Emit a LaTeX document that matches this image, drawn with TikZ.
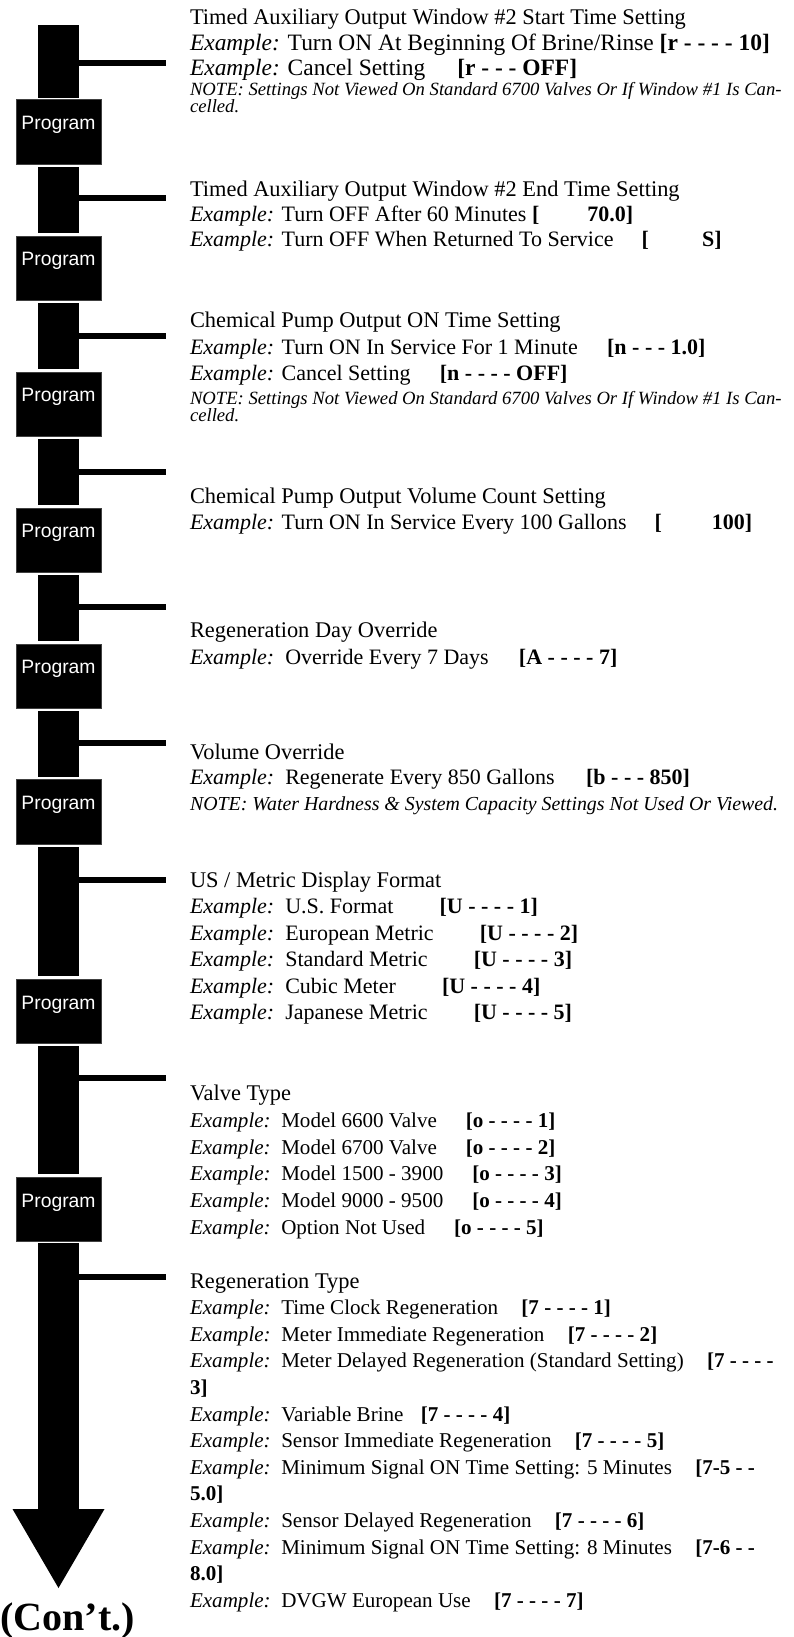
\documentclass[tikz,border=0pt]{standalone}
\usepackage{fontspec}
\setmainfont{Liberation Serif}
\newfontfamily\progfont{Liberation Sans}
\usetikzlibrary{fit}

\newcommand\exm{\textit{Example:}}
\newcommand\brk[2]{\hspace{#1}\textbf{#2}}

\tikzset{
  shaft/.style={fill=black, draw=none, inner sep=0pt, outer sep=0pt},
  prog/.style={fill=black, draw=black!75, line width=0.4pt, inner sep=0pt, outer sep=0pt,
    text=white, font=\progfont\fontsize{14.5}{16}\selectfont},
  stub/.style={line width=4.5pt, line cap=butt},
  ln/.style={anchor=base west, inner sep=0pt, outer sep=0pt, font=\fontsize{16.5}{19}\selectfont},
  head/.style={ln, font=\fontsize{16.8}{19}\selectfont},
  lnbig/.style={ln, font=\fontsize{17.6}{20}\selectfont},
  lnsm/.style={ln, font=\fontsize{15.8}{19}\selectfont},
  note/.style={ln, font=\fontsize{14}{16}\selectfont\itshape},
  notebig/.style={ln, font=\fontsize{14.9}{17}\selectfont\itshape},
  bk/.style={ln, font=\fontsize{16.5}{19}\selectfont\bfseries},
  bksm/.style={ln, font=\fontsize{15.8}{19}\selectfont\bfseries},
}

\begin{document}
\begin{tikzpicture}[x=0.75pt, y=-0.75pt]
\useasboundingbox (0,0) rectangle (793,1637);

% ---- column: shaft pieces and Program boxes
\node[shaft, fit={(38,25) (79,98)}] (s1) {};
\node[prog, fit={(16,99) (101,164)}] (p1) {Program};
\node[shaft, fit={(38,167) (79,233)}] (s2) {};
\node[prog, fit={(16,236) (101,300)}] (p2) {Program};
\node[shaft, fit={(38,303) (79,369)}] (s3) {};
\node[prog, fit={(16,372) (101,436)}] (p3) {Program};
\node[shaft, fit={(38,439) (79,505)}] (s4) {};
\node[prog, fit={(16,508) (101,572)}] (p4) {Program};
\node[shaft, fit={(38,575) (79,641)}] (s5) {};
\node[prog, fit={(16,644) (101,708)}] (p5) {Program};
\node[shaft, fit={(38,711) (79,777)}] (s6) {};
\node[prog, fit={(16,779) (101,844)}] (p6) {Program};
\node[shaft, fit={(38,847) (79,976)}] (s7) {};
\node[prog, fit={(16,979) (101,1043)}] (p7) {Program};
\node[shaft, fit={(38,1046) (79,1174)}] (s8) {};
\node[prog, fit={(16,1177) (101,1241)}] (p8) {Program};
\node[shaft, fit={(38,1243) (79,1509)}] (s9) {};
\coordinate (tip) at (58.5,1588);
\fill (s9.south) ++(-46,0) -- ++(92,0) -- (tip) -- cycle;

% ---- stubs leading to the settings
\coordinate (e1) at (166,63);
\coordinate (e2) at (166,198);
\coordinate (e3) at (166,336);
\coordinate (e4) at (166,472);
\coordinate (e5) at (166,607);
\coordinate (e6) at (166,743);
\coordinate (e7) at (166,880);
\coordinate (e8) at (166,1078);
\coordinate (e9) at (166,1277);
\draw[stub] (e1 -| s1.east) -- (e1);
\draw[stub] (e2 -| s2.east) -- (e2);
\draw[stub] (e3 -| s3.east) -- (e3);
\draw[stub] (e4 -| s4.east) -- (e4);
\draw[stub] (e5 -| s5.east) -- (e5);
\draw[stub] (e6 -| s6.east) -- (e6);
\draw[stub] (e7 -| s7.east) -- (e7);
\draw[stub] (e8 -| s8.east) -- (e8);
\draw[stub] (e9 -| s9.east) -- (e9);

% ---- window #2 start
\node[head] (t1) at (190,25) {Timed Auxiliary Output Window \#2 Start Time Setting};
\node[lnbig] (t1a) at (190,50.5) {\exm{} Turn ON At Beginning Of Brine/Rinse \textbf{[r - - - - 10]}};
\node[lnbig] (t1b) at (190,75.5) {\exm{} Cancel Setting\brk{24pt}{[r - - - OFF]}};
\node[note] (n1a) at (190,96) {NOTE: Settings Not Viewed On Standard 6700 Valves Or If Window \#1 Is Can-};
\node[note] (n1b) at (190,113) {celled.};

% ---- window #2 end
\node[head] (t2) at (190,197) {Timed Auxiliary Output Window \#2 End Time Setting};
\node[ln] (t2a) at (190,222) {\exm{} Turn OFF After 60 Minutes \textbf{[}\brk{36pt}{70.0]}};
\node[ln] (t2b) at (190,247) {\exm{} Turn OFF When Returned To Service\brk{21pt}{[}\brk{40pt}{S]}};

% ---- chemical pump on time
\node[head] (t3) at (190,327) {Chemical Pump Output ON Time Setting};
\node[ln] (t3a) at (190,354) {\exm{} Turn ON In Service For 1 Minute\brk{22pt}{[n - - - 1.0]}};
\node[ln] (t3b) at (190,380) {\exm{} Cancel Setting\brk{22pt}{[n - - - - OFF]}};
\node[note] (n3a) at (190,404) {NOTE: Settings Not Viewed On Standard 6700 Valves Or If Window \#1 Is Can-};
\node[note] (n3b) at (190,421) {celled.};

% ---- chemical pump volume
\node[head] (t4) at (190,503) {Chemical Pump Output Volume Count Setting};
\node[ln] (t4a) at (190,529) {\exm{} Turn ON In Service Every 100 Gallons\brk{21pt}{[}\brk{37.5pt}{100]}};

% ---- day override
\node[head] (t5) at (190,637) {Regeneration Day Override};
\node[ln] (t5a) at (190,664) {\exm{}\ \ Override Every 7 Days\brk{22.7pt}{[A - - - - 7]}};

% ---- volume override
\node[head] (t6) at (190,759) {Volume Override};
\node[ln] (t6a) at (190,784) {\exm{}\ \ Regenerate Every 850 Gallons\brk{23.6pt}{[b - - - 850]}};
\node[notebig] (n6a) at (190,810) {NOTE: Water Hardness \& System Capacity Settings Not Used Or Viewed.};

% ---- display format
\node[head] (t7) at (190,887) {US / Metric Display Format};
\node[ln] (t7a) at (190,913) {\exm{}\ \ U.S. Format\brk{34.6pt}{[U - - - - 1]}};
\node[ln] (t7b) at (190,940) {\exm{}\ \ European Metric\brk{34.6pt}{[U - - - - 2]}};
\node[ln] (t7c) at (190,966) {\exm{}\ \ Standard Metric\brk{34.6pt}{[U - - - - 3]}};
\node[ln] (t7d) at (190,993) {\exm{}\ \ Cubic Meter\brk{34.6pt}{[U - - - - 4]}};
\node[ln] (t7e) at (190,1019) {\exm{}\ \ Japanese Metric\brk{34.6pt}{[U - - - - 5]}};

% ---- valve type
\node[head] (t8) at (190,1100) {Valve Type};
\node[lnsm] (t8a) at (190,1127) {\exm{}\ \ Model 6600 Valve\brk{21.75pt}{[o - - - - 1]}};
\node[lnsm] (t8b) at (190,1154) {\exm{}\ \ Model 6700 Valve\brk{21.75pt}{[o - - - - 2]}};
\node[lnsm] (t8c) at (190,1180) {\exm{}\ \ Model 1500 - 3900\brk{21.75pt}{[o - - - - 3]}};
\node[lnsm] (t8d) at (190,1207) {\exm{}\ \ Model 9000 - 9500\brk{21.75pt}{[o - - - - 4]}};
\node[lnsm] (t8e) at (190,1234) {\exm{}\ \ Option Not Used\brk{21.75pt}{[o - - - - 5]}};

% ---- regeneration type
\node[head] (t9) at (190,1288) {Regeneration Type};
\node[lnsm] (t9a) at (190,1314.6) {\exm{}\ \ Time Clock Regeneration\brk{17.5pt}{[7 - - - - 1]}};
\node[lnsm] (t9b) at (190,1341.2) {\exm{}\ \ Meter Immediate Regeneration\brk{17.5pt}{[7 - - - - 2]}};
\node[lnsm] (t9c) at (190,1367.8) {\exm{}\ \ Meter Delayed Regeneration (Standard Setting)\brk{17.5pt}{[7 - - - -}};
\node[bksm] (k9d) at (190,1394.4) {3]};
\node[lnsm] (t9e) at (190,1421) {\exm{}\ \ Variable Brine\brk{13pt}{[7 - - - - 4]}};
\node[lnsm] (t9f) at (190,1447.6) {\exm{}\ \ Sensor Immediate Regeneration\brk{17.5pt}{[7 - - - - 5]}};
\node[lnsm] (t9g) at (190,1474.2) {\exm{}\ \ Minimum Signal ON Time Setting: 5 Minutes\brk{17.5pt}{[7-5 - -}};
\node[bksm] (k9h) at (190,1500.8) {5.0]};
\node[lnsm] (t9i) at (190,1527.4) {\exm{}\ \ Sensor Delayed Regeneration\brk{17.5pt}{[7 - - - - 6]}};
\node[lnsm] (t9j) at (190,1554) {\exm{}\ \ Minimum Signal ON Time Setting: 8 Minutes\brk{17.5pt}{[7-6 - -}};
\node[bksm] (k9k) at (190,1580.6) {8.0]};
\node[lnsm] (t9l) at (190,1607.2) {\exm{}\ \ DVGW European Use\brk{17.5pt}{[7 - - - - 7]}};

% ---- continuation mark
\node[anchor=base west, inner sep=0pt, font=\fontsize{30}{34}\selectfont\bfseries] (cont) at (0,1630) {(Con’t.)};
\end{tikzpicture}
\end{document}
